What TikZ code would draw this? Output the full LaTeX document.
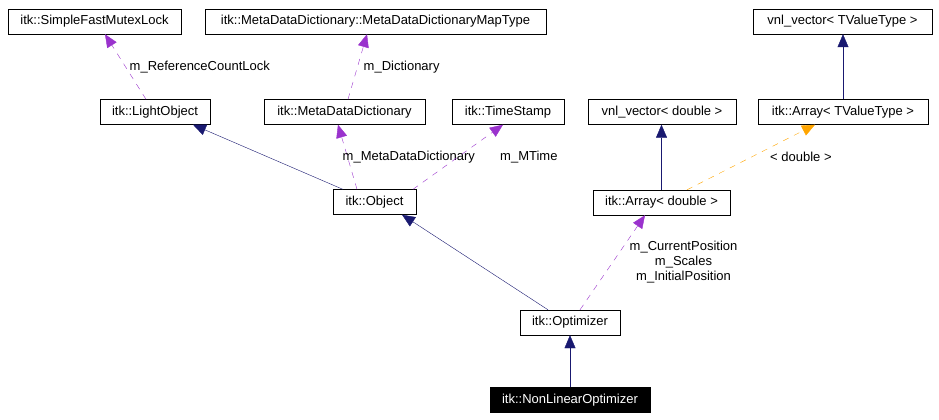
\documentclass[tikz,border=0pt]{standalone}
\usepackage{fontspec}
\setmainfont{Liberation Sans}
\usepackage{xcolor}
\usepackage{tikz}
\usetikzlibrary{arrows.meta, positioning}
\definecolor{edgenavy}{RGB}{25, 25, 112}
\definecolor{edgepurple}{RGB}{154, 50, 205}
\definecolor{edgeorange}{RGB}{255, 165, 0}

\begin{document}
\begin{tikzpicture}[x=1pt, y=-1pt,
  cls/.style={rectangle, draw=black, thin, fill=white, inner sep=0pt,
              minimum height=25pt, font=\fontsize{13}{15}\selectfont},
  cur/.style={cls, fill=black, text=white},
  lbl/.style={font=\fontsize{13}{15}\selectfont, inner sep=0pt, align=center, text=black},
  inh/.style={-{Triangle[length=13pt, width=11pt]}, edgenavy, thin},
  mem/.style={-{Triangle[length=13pt, width=11pt]}, edgepurple, thin,
              dash pattern=on 6pt off 6pt},
  tpl/.style={-{Triangle[length=13pt, width=11pt]}, edgeorange, thin,
              dash pattern=on 6pt off 6pt},
]
\useasboundingbox (0,0) rectangle (939,420);
\node[cls, minimum width=173pt] (SFML)   at (94.5, 21.5) {itk::SimpleFastMutexLock};
\node[cls, minimum width=341pt] (MapT)   at (375.5, 21.5) {itk::MetaDataDictionary::MetaDataDictionaryMapType};
\node[cls, minimum width=179pt] (VnlT)   at (842.5, 21.5) {vnl\_vector< TValueType >};
\node[cls, minimum width=110pt] (LObj)   at (155, 112) {itk::LightObject};
\node[cls, minimum width=161pt] (MDD)    at (344.5, 112) {itk::MetaDataDictionary};
\node[cls, minimum width=112pt] (TStamp) at (508, 112) {itk::TimeStamp};
\node[cls, minimum width=148pt] (VnlD)   at (662, 112) {vnl\_vector< double >};
\node[cls, minimum width=170pt] (ArrT)   at (843, 112) {itk::Array< TValueType >};
\node[cls, minimum width=83pt]  (Obj)    at (374.5, 202) {itk::Object};
\node[cls, minimum width=137pt] (ArrD)   at (661.5, 202.5) {itk::Array< double >};
\node[cls, minimum width=100pt] (Opt)    at (570, 322.5) {itk::Optimizer};
\node[cur, minimum width=160pt] (NLOpt)  at (570, 400) {itk::NonLinearOptimizer};
\draw[mem] ([xshift=-9pt]LObj.north) -- ([xshift=10.5pt]SFML.south)
  node[lbl, pos=0.5, anchor=west, xshift=4pt] {m\_ReferenceCountLock};
\draw[mem] ([xshift=3.5pt]MDD.north) -- ([xshift=-8.5pt]MapT.south)
  node[lbl, pos=0.5, anchor=west, xshift=6pt] {m\_Dictionary};
\draw[inh] ([xshift=10pt]Obj.north west) -- ([xshift=38pt]LObj.south);
\draw[mem] ([xshift=-17.5pt]Obj.north) -- ([xshift=-6.5pt]MDD.south)
  node[lbl, pos=0.5, anchor=west, xshift=-5pt] {m\_MetaDataDictionary};
\draw[mem] ([xshift=38.5pt]Obj.north) -- ([xshift=-5pt]TStamp.south)
  node[lbl, pos=0.5, anchor=west, xshift=42pt] {m\_MTime};
\draw[inh] ([xshift=-22pt]Opt.north) -- ([xshift=27.5pt]Obj.south);
\draw[mem] ([xshift=10pt]Opt.north) -- ([xshift=-16.5pt]ArrD.south)
  node[lbl, pos=0.5, anchor=west, xshift=17pt] {m\_CurrentPosition\\m\_Scales\\m\_InitialPosition};
\draw[inh] (NLOpt) -- (Opt);
\draw[inh] (ArrD.north) -- (ArrD.north |- VnlD.south);
\draw[tpl] ([xshift=25.5pt]ArrD.north) -- ([xshift=-28pt]ArrT.south)
  node[lbl, pos=0.5, anchor=west, xshift=19pt] {< double >};
\draw[inh] (ArrT.north) -- (ArrT.north |- VnlT.south);
\end{tikzpicture}
\end{document}
